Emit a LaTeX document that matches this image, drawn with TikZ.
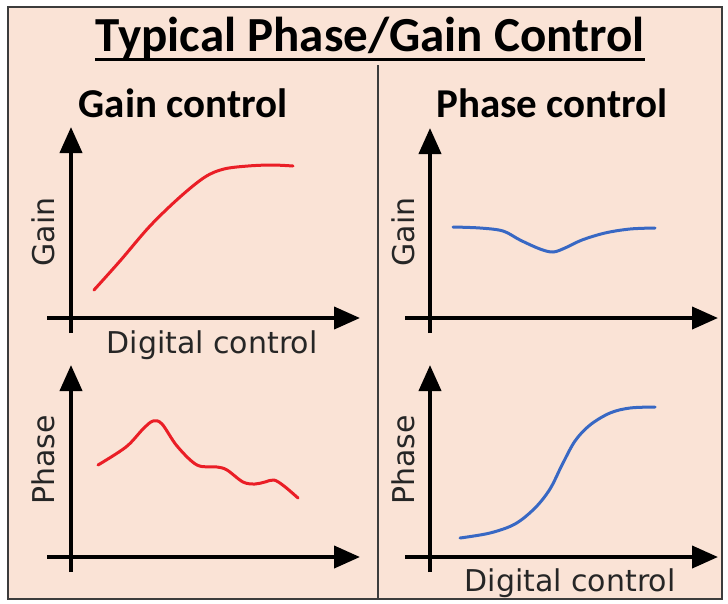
\documentclass[tikz,border=0pt]{standalone}
\usepackage{fontspec}
\newfontfamily\headfont{Carlito}
\newfontfamily\labelfont{DejaVu Sans}
\usetikzlibrary{arrows.meta}

\definecolor{panel}{RGB}{250,227,214}
\definecolor{framegray}{RGB}{60,60,60}
\definecolor{curvered}{RGB}{234,30,38}
\definecolor{curveblue}{RGB}{56,104,196}

\begin{document}
\begin{tikzpicture}[
  x=1pt, y=-1pt,
  title/.style={inner sep=0pt, anchor=base, font=\headfont\bfseries\fontsize{49}{58}\selectfont},
  heading/.style={inner sep=0pt, anchor=base, font=\headfont\bfseries\fontsize{41}{48}\selectfont},
  axislabel/.style={inner sep=0pt, anchor=base, text=black!85, font=\labelfont\fontsize{30}{35}\selectfont},
  ylabel/.style={axislabel, rotate=90},
  axis/.style={line width=4pt, -{Triangle[length=26pt, width=22pt]}},
  curve/.style={line width=3pt, line cap=round, line join=round},
]
\useasboundingbox (0,0) rectangle (728,603);
\fill[white] (0,0) rectangle (728,603);
\draw[framegray, line width=2pt, fill=panel] (8,7) rectangle (722,599);

% title with underline
\node[title] (title) at (370,51) {Typical Phase/Gain Control};
\draw[line width=3pt] ([yshift=-8pt]title.base west) -- ([yshift=-8pt]title.base east);

% column divider
\coordinate (divtop) at (378,65);
\coordinate (divbot) at (378,599);
\draw[line width=1.8pt, framegray] (divtop) -- (divbot);

% column headings
\node[heading] (hgain)  at (183,117) {Gain control};
\node[heading] (hphase) at (552,117) {Phase control};

% axes of the four plots
\draw[axis] (71,333) -- (71,127);
\draw[axis] (47,318) -- (360,318);
\draw[axis] (71,572) -- (71,365);
\draw[axis] (47,557) -- (360,557);
\draw[axis] (430,333) -- (430,128);
\draw[axis] (405,318) -- (718,318);
\draw[axis] (430,572) -- (430,365);
\draw[axis] (405,557) -- (718,557);

% axis labels
\node[ylabel] (lg1) at (54,232) {Gain};
\node[ylabel] (lp1) at (54,460) {Phase};
\node[ylabel] (lg2) at (414,232) {Gain};
\node[ylabel] (lp2) at (414,460) {Phase};
\node[axislabel] (dc1) at (212,353) {Digital control};
\node[axislabel] (dc2) at (570,591) {Digital control};

% gain control: gain response
\draw[curve, curvered] plot[smooth, tension=0.55] coordinates
  {(94,290) (120,261) (150,226) (180,197) (205,177) (224,169) (248,166) (272,165) (293,166)};
% gain control: phase response
\draw[curve, curvered] plot[smooth, tension=0.55] coordinates
  {(98,465) (126,447) (143,429) (153,421) (162,424) (177,446) (197,465) (217,467) (227,470)
   (243,482) (255,484) (265,482) (274,480) (284,486) (298,498)};
% phase control: gain response
\draw[curve, curveblue] plot[smooth, tension=0.55] coordinates
  {(453,227) (480,228) (503,231) (520,240) (540,249) (553,252) (565,248) (582,240) (605,233) (630,229) (655,228)};
% phase control: phase response
\draw[curve, curveblue] plot[smooth, tension=0.55] coordinates
  {(460,538) (490,533) (515,524) (535,508) (550,489) (562,465) (575,441) (590,425) (610,413) (630,408) (655,407)};
\end{tikzpicture}
\end{document}
